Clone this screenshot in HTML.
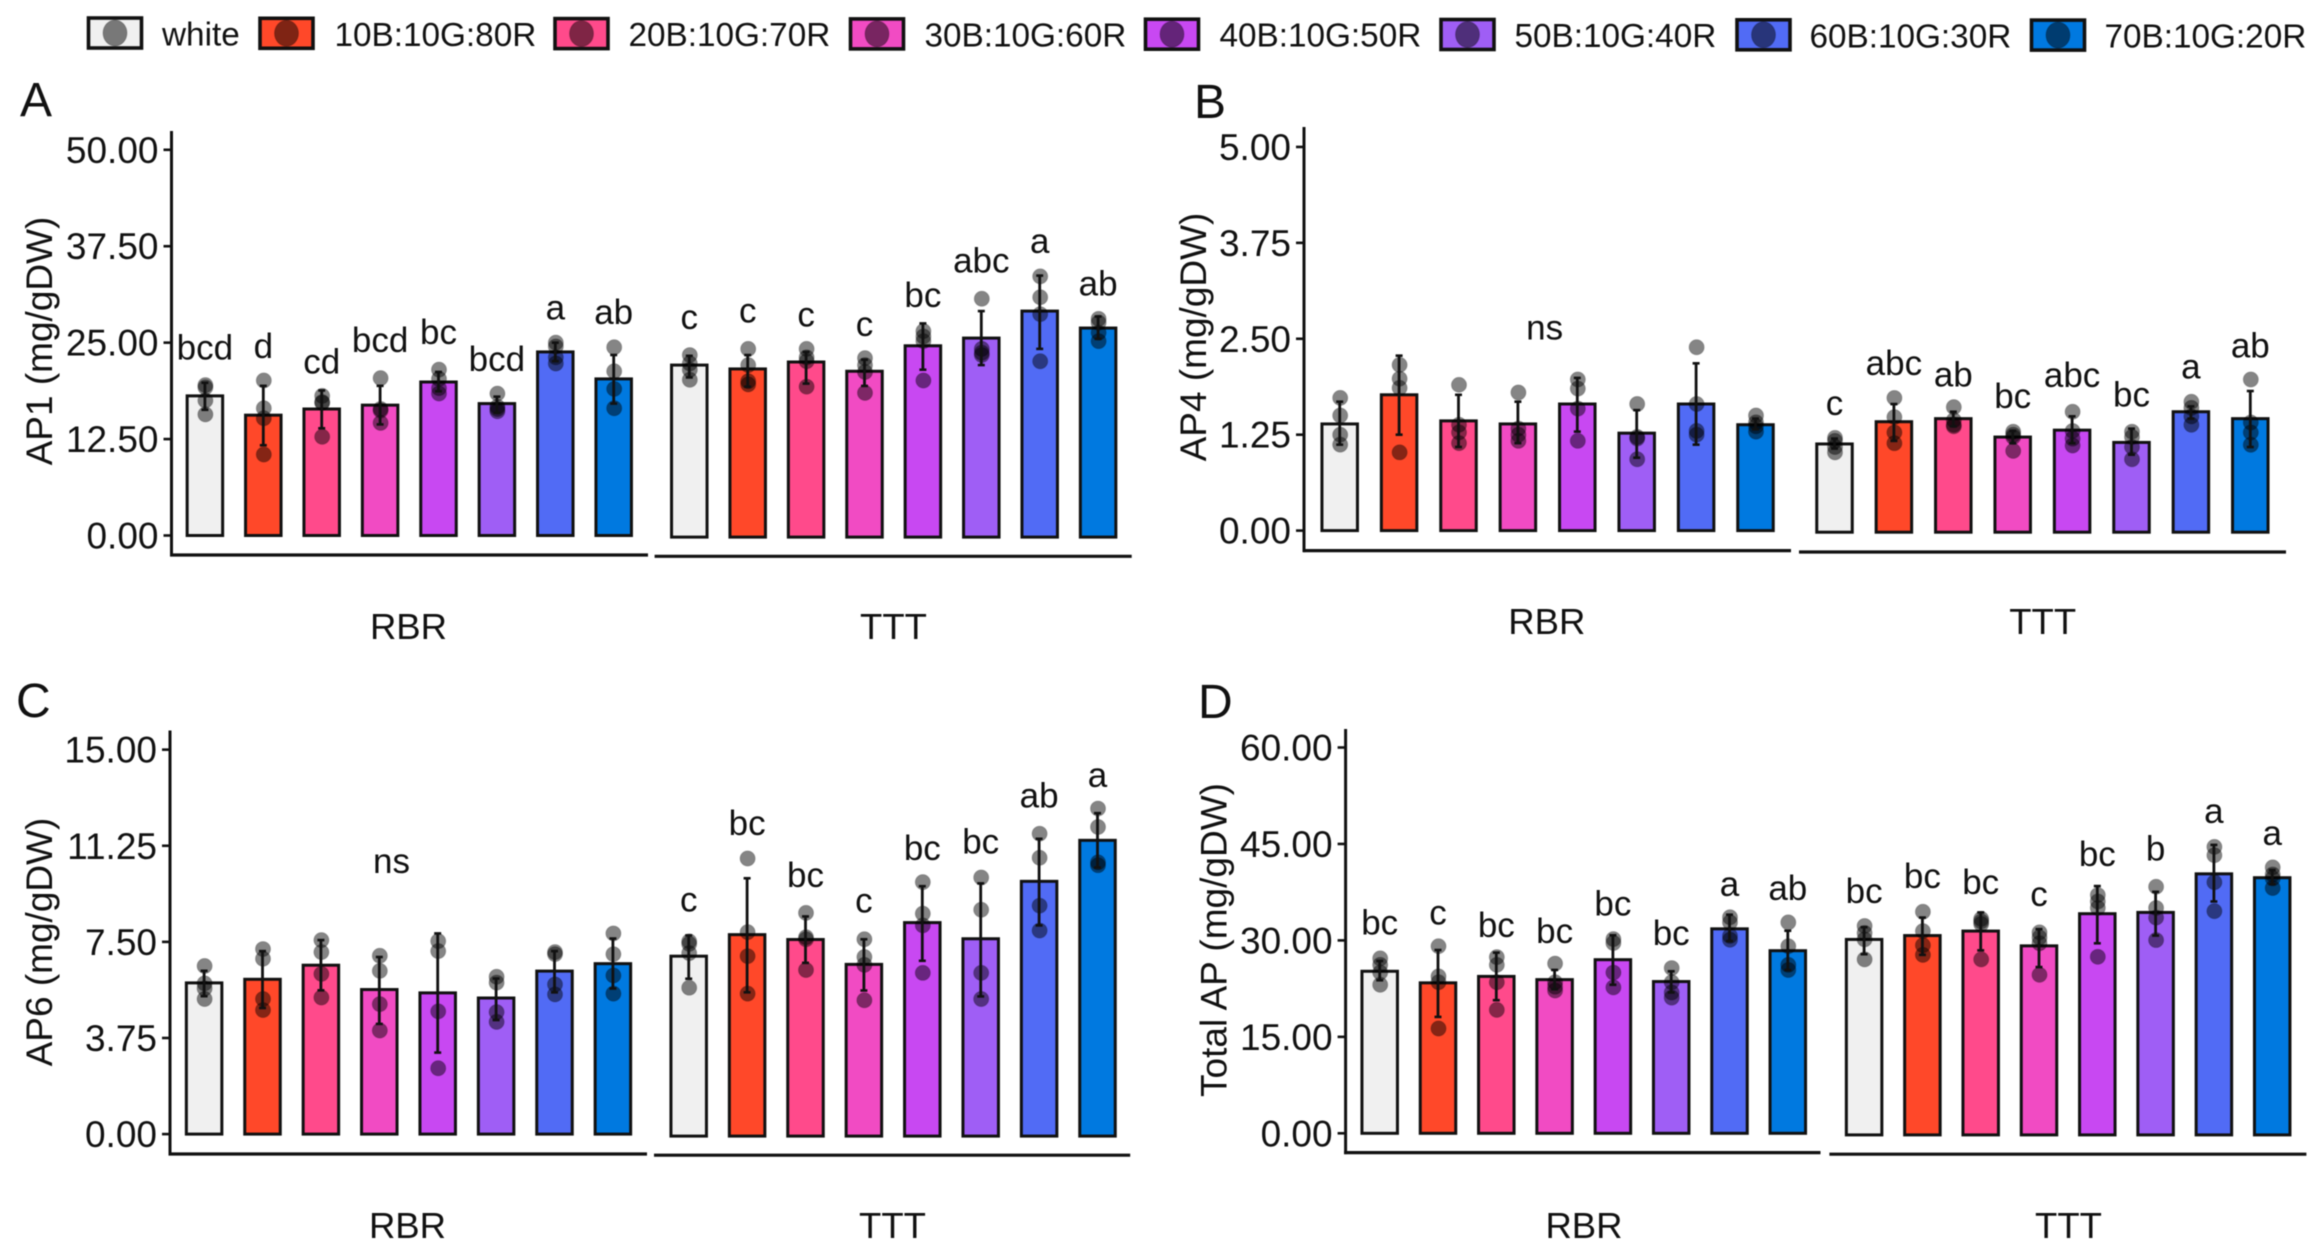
<!DOCTYPE html>
<html lang="en">
<head>
<meta charset="utf-8">
<title>AP content bar charts</title>
<style>
html,body{margin:0;padding:0;background:#fff;}
svg{display:block;filter:blur(0.5px);}
text{font-family:"Liberation Sans",sans-serif;fill:#111;}
</style>
</head>
<body>
<svg id="figure" xmlns="http://www.w3.org/2000/svg" width="2321" height="1257" viewBox="0 0 2321 1257">
  <rect x="0" y="0" width="2321" height="1257" fill="#fff"/>
  <g id="legend" font-size="33"></g>
  <text x="20" y="116" font-size="48">A</text>
  <text x="1194" y="118" font-size="48">B</text>
  <text x="16" y="717" font-size="48">C</text>
  <text x="1198" y="718" font-size="48">D</text>
  <g id="panels"></g>
</svg>
<script>
// Shared categories
const groups = ["RBR", "TTT"];
const treatments = ["white", "10B:10G:80R", "20B:10G:70R", "30B:10G:60R", "40B:10G:50R", "50B:10G:40R", "60B:10G:30R", "70B:10G:20R"];
const treatmentColors = ["#f0f0f0", "#ff4829", "#ff4a8b", "#f14bc3", "#c848f2", "#9f5ef5", "#516bf5", "#0079e0"];

// Panel A: AP1
const ap1Ticks = [0, 12.5, 25, 37.5, 50];
const ap1Means = [18.1,15.6,16.4,16.9,19.9,17.1,23.8,20.3, 22.3,21.8,22.7,21.5,24.8,25.8,29.3,27.1];
const ap1ErrLow = [16.3,11.7,13.9,14.4,18.7,15.9,22.6,17.1, 20.7,19.5,19.9,19.6,21.7,22.3,24.4,25.7];
const ap1ErrHigh = [19.8,19.4,18.8,19.4,21.2,18.0,25.0,23.4, 23.5,23.6,24.0,23.0,27.7,29.3,33.9,28.6];
const ap1Points = [
  [19.5,19.2,17.5,15.7],[20.1,16.5,15.2,10.5],[18.1,17.3,17.2,12.8],[20.4,16.4,16.2,14.6],
  [21.5,20.3,19.1,18.4],[18.4,16.7,16.4,16.1],[25.0,24.5,23.1,22.3],[24.4,21.3,19.0,16.5],
  [23.6,22.5,21.7,20.4],[24.4,22.3,20.2,19.8],[24.4,23.3,22.8,19.5],[23.2,22.3,21.4,18.7],
  [26.7,26.0,25.4,20.3],[30.9,24.4,23.9,23.6],[33.8,31.1,28.9,22.8],[28.3,27.8,26.5,25.4]
];
const ap1Letters = ["bcd","d","cd","bcd","bc","bcd","a","ab", "c","c","c","c","bc","abc","a","ab"];
const ap1LetterY = [22.8,23.0,21.0,23.8,24.8,21.3,28.0,27.4, 27.0,27.8,27.3,26.1,29.8,34.3,36.8,31.3];

// Panel B: AP4
const ap4Ticks = [0, 1.25, 2.5, 3.75, 5];
const ap4Means = [1.39,1.77,1.43,1.39,1.65,1.27,1.65,1.38, 1.15,1.44,1.48,1.24,1.33,1.17,1.57,1.48];
const ap4ErrLow = [1.12,1.25,1.09,1.14,1.29,0.95,1.12,1.32, 1.09,1.19,1.38,1.16,1.16,1.01,1.48,1.11];
const ap4ErrHigh = [1.68,2.28,1.77,1.68,1.99,1.57,2.18,1.46, 1.22,1.67,1.57,1.32,1.51,1.35,1.64,1.84];
const ap4Points = [
  [1.73,1.50,1.25,1.12],[2.16,1.98,1.86,1.02],[1.90,1.38,1.28,1.14],[1.80,1.33,1.25,1.17],
  [1.97,1.85,1.59,1.17],[1.65,1.22,1.20,0.93],[2.39,1.65,1.30,1.25],[1.50,1.41,1.36,1.29],
  [1.23,1.19,1.11,1.04],[1.75,1.50,1.30,1.16],[1.63,1.46,1.40,1.38],[1.31,1.27,1.24,1.06],
  [1.57,1.32,1.22,1.13],[1.31,1.24,1.11,0.95],[1.70,1.62,1.51,1.40],[1.99,1.43,1.30,1.14]
];
const ap4Letters = ["","","","","","","","", "c","abc","ab","bc","abc","bc","a","ab"];
const ap4LetterY = [0,0,0,0,0,0,0,0, 1.53,2.05,1.90,1.62,1.89,1.64,2.00,2.28];
const ap4GroupNote = "ns";
const ap4GroupNoteY = 2.49;

// Panel C: AP6
const ap6Ticks = [0, 3.75, 7.5, 11.25, 15];
const ap6Means = [5.90,6.04,6.59,5.64,5.51,5.31,6.36,6.65, 7.02,7.86,7.67,6.70,8.33,7.70,9.94,11.54];
const ap6ErrLow = [5.38,4.92,5.61,4.30,3.18,4.45,5.53,5.68, 6.14,5.61,6.76,5.68,6.84,5.45,8.22,10.48];
const ap6ErrHigh = [6.37,7.14,7.57,6.91,7.83,6.07,7.14,7.63, 7.83,10.06,8.57,7.68,9.75,9.86,11.60,12.60];
const ap6Points = [
  [6.56,5.88,5.68,5.27],[7.22,6.84,5.27,4.84],[7.57,7.10,6.25,5.33],[6.96,6.37,5.07,4.04],
  [7.53,7.14,4.79,2.57],[6.14,5.91,4.76,4.38],[7.10,7.02,5.84,5.45],[7.83,7.02,6.19,5.48],
  [7.60,7.50,7.14,5.79],[10.83,7.96,7.02,5.56],[8.71,7.76,7.68,6.48],[7.68,6.99,6.68,5.30],
  [9.91,8.68,8.22,6.37],[10.09,8.83,6.37,5.35],[11.80,10.86,8.99,8.02],[12.78,12.06,10.68,10.57]
];
const ap6Letters = ["","","","","","","","", "c","bc","bc","c","bc","bc","ab","a"];
const ap6LetterY = [0,0,0,0,0,0,0,0, 8.76,11.75,9.71,8.72,10.78,11.03,12.83,13.63];
const ap6GroupNote = "ns";
const ap6GroupNoteY = 10.18;

// Panel D: Total AP
const totalTicks = [0, 15, 30, 45, 60];
const totalMeans = [25.2,23.4,24.4,23.9,27.0,23.6,31.8,28.4, 30.4,31.0,31.7,29.4,34.4,34.6,40.6,40.0];
const totalErrLow = [23.8,18.1,20.7,22.4,23.1,21.9,29.9,25.4, 28.1,28.0,28.7,26.1,29.8,31.0,36.3,39.0];
const totalErrHigh = [26.8,28.5,28.1,25.4,30.8,25.2,34.0,31.5, 32.3,33.8,34.6,32.0,38.7,37.8,45.1,41.2];
const totalPoints = [
  [27.2,26.2,25.0,23.1],[29.1,24.4,23.5,16.3],[27.4,26.2,23.5,19.2],[26.4,23.5,22.8,22.2],
  [30.2,29.6,25.0,22.7],[25.7,23.5,21.9,21.1],[33.6,32.8,30.7,30.1],[32.8,29.1,26.2,25.4],
  [32.5,31.4,30.4,27.3],[34.7,31.7,29.5,28.0],[33.6,33.2,32.8,27.3],[31.5,30.7,29.8,24.9],
  [37.3,36.3,35.3,27.7],[38.6,35.3,33.8,30.3],[44.8,43.5,39.3,34.8],[41.6,40.5,39.9,38.4]
];
const totalLetters = ["bc","c","bc","bc","bc","bc","a","ab", "bc","bc","bc","c","bc","b","a","a"];
const totalLetterY = [30.9,32.5,30.5,29.6,33.9,29.3,36.9,36.3, 36.1,38.4,37.5,35.6,41.8,42.7,48.5,45.1];

const NS = "http://www.w3.org/2000/svg";
function make(parent, tag, attrs) {
  const el = document.createElementNS(NS, tag);
  for (const k in attrs) el.setAttribute(k, attrs[k]);
  parent.appendChild(el);
  return el;
}

/* ---------- legend ---------- */
const legendLayer = document.getElementById("legend");
const legendLayout = {
  boxLeft: [88.5, 260, 555, 850.5, 1145.5, 1441, 1737, 2031.5],
  textLeft: [162, 334.5, 628.5, 924.5, 1219.5, 1514.5, 1809.5, 2104.5]
};
treatments.forEach(function (name, i) {
  const drift = i * 0.3;
  const g = make(legendLayer, "g", {});
  
  
  const swatch = make(g, "rect", {x: legendLayout.boxLeft[i], y: 18 + drift, width: 53, height: 30, fill: treatmentColors[i], stroke: "#111", "stroke-width": 3.6});
  
  
  const dot = make(g, "ellipse", {cx: legendLayout.boxLeft[i] + 26.5, cy: 33 + drift, rx: 12, ry: 13, fill: "rgba(0,0,0,0.5)", stroke: "rgba(0,0,0,0.2)", "stroke-width": 1});
  
  
  const label = make(g, "text", {x: legendLayout.textLeft[i], y: 45.5 + drift, "font-size": 33.3});
  
  
  label.textContent = name;
});

/* ---------- panels ---------- */
const panelsLayer = document.getElementById("panels");

function drawPanel(p) {
  const root = make(panelsLayer, "g", {});
  
  

  const scaleY = function (group, v) { return p.y0[group] - v * p.ppu; };
  const scaleX = function (group, i) { return p.x0[group] + i * p.pitch; };

  // y axis
  const yAxis = make(root, "line", {x1: p.axisX, x2: p.axisX, y1: p.axisTop, y2: p.axisBottom[0] + 1.5, stroke: "#111", "stroke-width": 3});
  
  

  p.ticks.forEach(function (t) {
    const ty = scaleY(0, t);
    const tick = make(root, "line", {x1: p.axisX - 8, x2: p.axisX, y1: ty, y2: ty, stroke: "#111", "stroke-width": 2.6});
    
    
    const lab = make(root, "text", {x: p.axisX - 13, y: ty + 13, "font-size": 37, "text-anchor": "end"});
    
    
    lab.textContent = t.toFixed(2);
  });

  // y title
  const title = make(root, "text", {x: 0, y: 0, "font-size": 37, "text-anchor": "middle", transform: "translate(" + p.titleX + "," + p.titleY + ") rotate(-90)"});
  
  
  title.textContent = p.title;

  // x axis segments and group labels
  groups.forEach(function (gName, g) {
    const seg = make(root, "line", {x1: p.segStart[g], x2: p.segEnd[g], y1: p.axisBottom[g], y2: p.axisBottom[g], stroke: "#111", "stroke-width": 3.2});
    
    
    const lab = make(root, "text", {x: p.groupLabelX[g], y: p.groupLabelY, "font-size": 36.5, "text-anchor": "middle"});
    
    
    lab.textContent = gName;
  });

  // bars, points, error bars, letters
  p.means.forEach(function (m, idx) {
    const g = idx < treatments.length ? 0 : 1;
    const i = idx % treatments.length;
    const cx = scaleX(g, i);
    const bw = 35.5;

    const bar = make(root, "rect", {x: cx - bw / 2, y: scaleY(g, m), width: bw, height: scaleY(g, 0) - scaleY(g, m), fill: treatmentColors[i], stroke: "#111", "stroke-width": 3});
    
    

    p.points[idx].forEach(function (v) {
      const pt = make(root, "circle", {cx: cx + 0.5, cy: scaleY(g, v), r: 7.6, fill: "rgba(0,0,0,0.48)", stroke: "rgba(0,0,0,0.15)", "stroke-width": 1});
      
      
    });

    const hi = scaleY(g, p.errHigh[idx]);
    const lo = scaleY(g, p.errLow[idx]);
    const stem = make(root, "line", {x1: cx, x2: cx, y1: hi, y2: lo, stroke: "#111", "stroke-width": 2.8});
    
    
    [hi, lo].forEach(function (cy) {
      const cap = make(root, "line", {x1: cx - 3.5, x2: cx + 3.5, y1: cy, y2: cy, stroke: "#111", "stroke-width": 2.6});
      
      
    });

    if (p.letters[idx]) {
      const letter = make(root, "text", {x: cx, y: scaleY(g, p.letterY[idx]), "font-size": 35, "text-anchor": "middle"});
      
      
      letter.textContent = p.letters[idx];
    }
  });

  if (p.note) {
    const note = make(root, "text", {x: scaleX(0, 3.5) + p.noteShift, y: scaleY(0, p.noteY), "font-size": 35, "text-anchor": "middle"});
    
    
    note.textContent = p.note;
  }
}

drawPanel({
  name: "panel-a-ap1", title: "AP1  (mg/gDW)", titleX: 52, titleY: 341,
  ticks: ap1Ticks, means: ap1Means, errLow: ap1ErrLow, errHigh: ap1ErrHigh, points: ap1Points, letters: ap1Letters, letterY: ap1LetterY,
  ppu: 7.714, y0: [535.5, 537.1], x0: [204.9, 689.3], pitch: 58.4,
  axisX: 171.5, axisTop: 131, axisBottom: [555, 556.3],
  segStart: [170, 654.6], segEnd: [648, 1131.7],
  groupLabelX: [408.5, 893.5], groupLabelY: 639
});
drawPanel({
  name: "panel-b-ap4", title: "AP4  (mg/gDW)", titleX: 1206, titleY: 337,
  ticks: ap4Ticks, means: ap4Means, errLow: ap4ErrLow, errHigh: ap4ErrHigh, points: ap4Points, letters: ap4Letters, letterY: ap4LetterY,
  note: ap4GroupNote, noteY: ap4GroupNoteY, noteShift: -3,
  ppu: 76.73, y0: [530.6, 532.2], x0: [1339.7, 1834.5], pitch: 59.4,
  axisX: 1304, axisTop: 127, axisBottom: [550.6, 552],
  segStart: [1303, 1799], segEnd: [1791, 2286],
  groupLabelX: [1546.8, 2042.7], groupLabelY: 634
});
drawPanel({
  name: "panel-c-ap6", title: "AP6  (mg/gDW)", titleX: 52, titleY: 942,
  ticks: ap6Ticks, means: ap6Means, errLow: ap6ErrLow, errHigh: ap6ErrHigh, points: ap6Points, letters: ap6Letters, letterY: ap6LetterY,
  note: ap6GroupNote, noteY: ap6GroupNoteY, noteShift: -17,
  ppu: 25.63, y0: [1134.1, 1136.1], x0: [204.1, 688.7], pitch: 58.4,
  axisX: 170, axisTop: 730.5, axisBottom: [1154, 1155.2],
  segStart: [168.5, 654], segEnd: [647, 1130.2],
  groupLabelX: [407.5, 892.5], groupLabelY: 1238
});
drawPanel({
  name: "panel-d-total-ap", title: "Total AP  (mg/gDW)", titleX: 1226.5, titleY: 940,
  ticks: totalTicks, means: totalMeans, errLow: totalErrLow, errHigh: totalErrHigh, points: totalPoints, letters: totalLetters, letterY: totalLetterY,
  ppu: 6.43, y0: [1133.3, 1134.9], x0: [1379.7, 1864.1], pitch: 58.3,
  axisX: 1345.6, axisTop: 729, axisBottom: [1152.6, 1154.2],
  segStart: [1344, 1829.4], segEnd: [1820.5, 2306.4],
  groupLabelX: [1584, 2068.5], groupLabelY: 1238
});
</script>
</body>
</html>
